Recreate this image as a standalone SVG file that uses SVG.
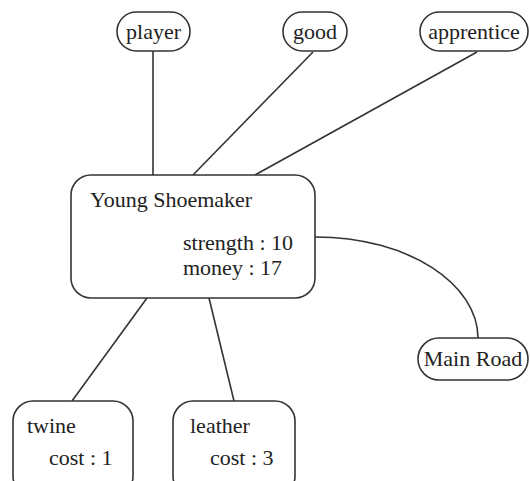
<svg xmlns="http://www.w3.org/2000/svg" width="530" height="481" viewBox="0 0 530 481">
  <style>
    .box { fill: #ffffff; stroke: #333333; stroke-width: 1.6; }
    .edge { fill: none; stroke: #333333; stroke-width: 1.6; }
    text { font-family: "Liberation Serif", "DejaVu Serif", "Times New Roman", serif; font-size: 22px; fill: #222222; }
    .c { text-anchor: middle; }
  </style>
  <rect width="530" height="481" fill="#ffffff"/>
  <g id="connectors">
    <line class="edge" x1="153" y1="51" x2="153" y2="175"/>
    <line class="edge" x1="313" y1="52" x2="193" y2="175"/>
    <line class="edge" x1="477" y1="52" x2="255" y2="175"/>
    <line class="edge" x1="147" y1="298" x2="72" y2="401"/>
    <line class="edge" x1="209" y1="298" x2="234" y2="401"/>
    <path class="edge" d="M315,237 C410,237 478,285 478,338"/>
  </g>
  <g id="player">
    <rect class="box" x="117" y="12" width="73" height="39" rx="19.5"/>
    <text class="c" x="153.5" y="38.5">player</text>
  </g>
  <g id="good">
    <rect class="box" x="283" y="12" width="64" height="39" rx="19.5"/>
    <text class="c" x="315" y="38.5">good</text>
  </g>
  <g id="apprentice">
    <rect class="box" x="420" y="12" width="108" height="39" rx="19.5"/>
    <text class="c" x="474" y="38.5">apprentice</text>
  </g>
  <g id="young-shoemaker">
    <rect class="box" x="71" y="175" width="244" height="123" rx="20"/>
    <text x="90" y="207">Young Shoemaker</text>
    <text x="183" y="250">strength : 10</text>
    <text x="183" y="275">money : 17</text>
  </g>
  <g id="main-road">
    <rect class="box" x="418" y="338" width="110" height="42" rx="21"/>
    <text class="c" x="473" y="366">Main Road</text>
  </g>
  <g id="twine">
    <rect class="box" x="13" y="401" width="120" height="95" rx="20"/>
    <text x="27" y="433">twine</text>
    <text x="49" y="465">cost : 1</text>
  </g>
  <g id="leather">
    <rect class="box" x="173" y="401" width="122" height="95" rx="20"/>
    <text x="190" y="433">leather</text>
    <text x="210" y="465">cost : 3</text>
  </g>
</svg>
